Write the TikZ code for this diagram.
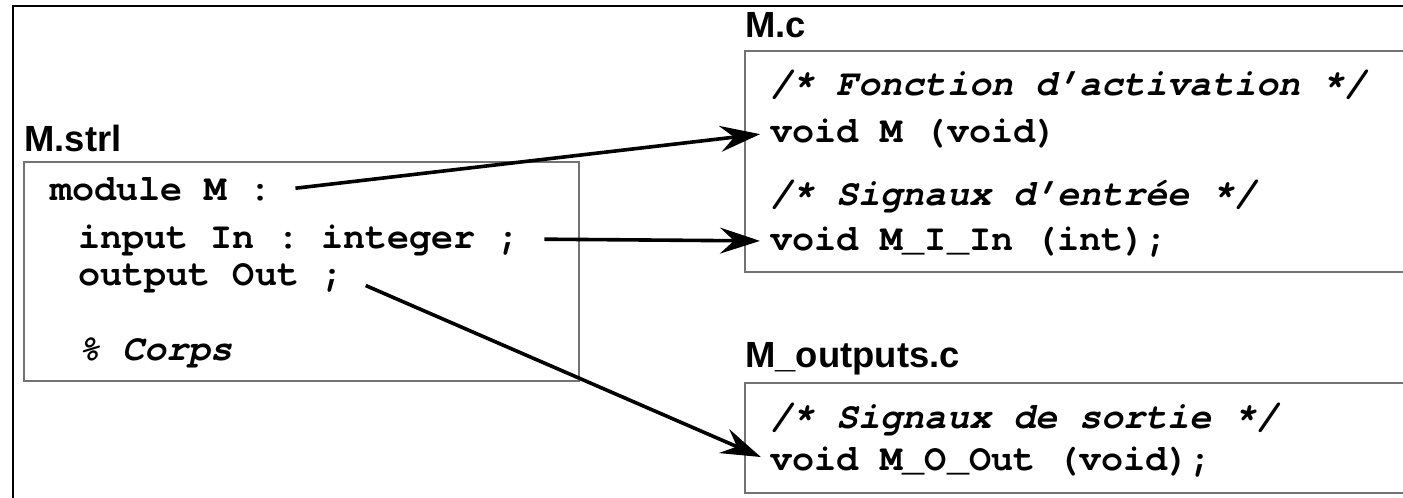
\documentclass[tikz,border=0pt]{standalone}
\usepackage{fontspec}
\setmonofont{texgyrecursor}[Extension=.otf, UprightFont=*-regular, BoldFont=*-bold,
	ItalicFont=*-italic, BoldItalicFont=*-bolditalic]
\newfontfamily\labelfont{Liberation Sans}
\usetikzlibrary{arrows.meta}

\begin{document}
\begin{tikzpicture}[x=0.5pt, y=-0.5pt,
		code/.style={anchor=base west, inner sep=0pt, text height=12pt, text depth=3pt,
			font=\fontsize{18.4pt}{22pt}\selectfont\ttfamily\bfseries},
		comment/.style={code, font=\fontsize{18.4pt}{22pt}\selectfont\ttfamily\bfseries\itshape},
		filename/.style={anchor=base west, inner sep=0pt, font=\fontsize{18.2pt}{21pt}\selectfont\labelfont\bfseries},
		box/.style={draw=black!55, line width=0.8pt},
		sig/.style={-{Stealth[length=20pt, width=13pt, inset=7pt]}, line width=1.8pt,
			shorten <=12pt, shorten >=5pt}]
				\clip (0,0) rectangle (1403,498);
	
				% Frame and boxes
				\draw[line width=0.8pt] (13,6) rectangle (1430,530);
				\draw[box] (24,162) rectangle (579,381);
				\draw[box] (745,51) rectangle (1430,272);
				\draw[box] (745,383) rectangle (1430,493);
	
				% File names
				\node[filename] (strl) at (24,151) {M.strl};
				\node[filename] (mc) at (745,37) {M.c};
				\node[filename] (outc) at (745,367) {M\_outputs.c};
	
				% M.strl
				\node[code] (module) at (50,200) {module M :};
				\node[code] (input) at (78,248) {input In : integer ;};
				\node[code] (output) at (78,285) {output Out ;};
				\node[comment] (corps) at (78,360) {\% Corps};
	
				% M.c
				\node[comment] (activ) at (770,95) {/* Fonction d’activation */};
				\node[code] (voidm) at (770,142) {void M (void)};
				\node[comment] (entree) at (770,205) {/* Signaux d’entrée */};
				\node[code] (voidin) at (770,250) {void M\_I\_In (int);};
	
				% M_outputs.c
				\node[comment] (sortie) at (770,428) {/* Signaux de sortie */};
				\node[code] (voidout) at (770,470) {void M\_O\_Out (void);};
	
				% Arrows
				\draw[sig] (module.east) -- (voidm.west);
				\draw[sig] (input.east) -- (voidin.west);
				\draw[sig] (output.east) -- (voidout.west);
			\end{tikzpicture}
\end{document}
